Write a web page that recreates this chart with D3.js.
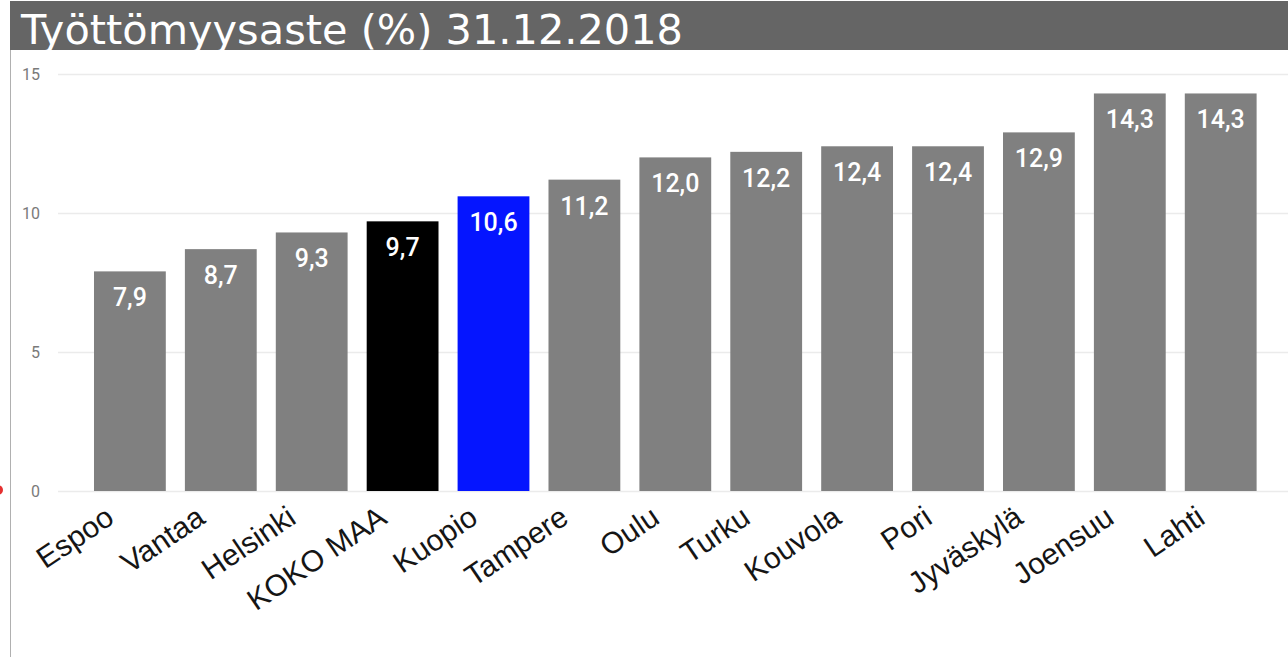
<!DOCTYPE html>
<html>
<head>
<meta charset="utf-8">
<script src="https://cdn.jsdelivr.net/npm/d3@7"></script>
<style>
  body { margin: 0; background: #fff; overflow: hidden; }
  .tick-label { font-family: Roboto, sans-serif; font-size: 16px; fill: #7a7a7a; }
  .bar-label { font-family: Roboto, sans-serif; font-size: 25px; font-weight: 500; fill: #fff; }
  .cat-label { font-family: 'Liberation Sans', Arial, sans-serif; font-size: 30px; fill: #151515; }
</style>
</head>
<body>
<div id="chart"></div>
<script>
// Data.
var cities = ['Espoo', 'Vantaa', 'Helsinki', 'KOKO MAA', 'Kuopio', 'Tampere',
  'Oulu', 'Turku', 'Kouvola', 'Pori', 'Jyväskylä', 'Joensuu', 'Lahti'];
var rates = [7.9, 8.7, 9.3, 9.7, 10.6, 11.2, 12.0, 12.2, 12.4, 12.4, 12.9, 14.3, 14.3];
var yTicks = [0, 5, 10, 15];
var titleText = 'Työttömyysaste (%) 31.12.2018';

var W = 1288, H = 657;

function barColor(name) {
  if (name === 'KOKO MAA') return '#000000';
  if (name === 'Kuopio') return '#0515ff';
  return '#808080';
}

function fmt(v) {
  return v.toFixed(1).replace('.', ',');
}

var svg = d3.select('#chart').append('svg')
  .attr('width', W)
  .attr('height', H);

// Title bar
svg.append('rect')
  .attr('x', 10).attr('y', 1)
  .attr('width', W - 10).attr('height', 49)
  .attr('fill', '#656565');

svg.append('text')
  .attr('x', 21).attr('y', 44)
  .attr('fill', '#fff')
  .attr('textLength', 662)
  .attr('lengthAdjust', 'spacingAndGlyphs')
  .style('font-family', "'DejaVu Sans', sans-serif")
  .style('font-size', '40px')
  .text(titleText);

// Left frame line
svg.append('line')
  .attr('x1', 10.5).attr('x2', 10.5)
  .attr('y1', 50).attr('y2', H)
  .attr('stroke', '#b0b0b0');

// small red marker on the left edge
svg.append('circle')
  .attr('cx', -2).attr('cy', 490).attr('r', 5)
  .attr('fill', '#e53030');

var x = d3.scaleBand()
  .domain(cities)
  .range([84.9, 1265.7])
  .paddingInner(0.21)
  .paddingOuter(0.1);

var y = d3.scaleLinear()
  .domain([0, 15])
  .range([491, 74]);

// gridlines + tick labels
var grid = svg.append('g');
grid.selectAll('line')
  .data(yTicks)
  .enter()
  .append('line')
  .attr('x1', 58).attr('x2', W)
  .attr('y1', function(d) { return Math.round(y(d)) + 0.5; })
  .attr('y2', function(d) { return Math.round(y(d)) + 0.5; })
  .attr('stroke', '#ebebeb')
  .attr('stroke-width', 1.5);

grid.selectAll('text')
  .data(yTicks)
  .enter()
  .append('text')
  .attr('class', 'tick-label')
  .attr('x', 40)
  .attr('y', function(d) { return y(d); })
  .attr('dy', '0.36em')
  .attr('text-anchor', 'end')
  .text(function(d) { return d; });

// bars
svg.append('g').selectAll('rect')
  .data(cities)
  .enter()
  .append('rect')
  .attr('x', function(d) { return x(d); })
  .attr('y', function(d, i) { return y(rates[i]); })
  .attr('width', x.bandwidth())
  .attr('height', function(d, i) { return y(0) - y(rates[i]); })
  .attr('fill', barColor);

// value labels inside bars
svg.append('g').selectAll('text')
  .data(cities)
  .enter()
  .append('text')
  .attr('class', 'bar-label')
  .attr('x', function(d) { return x(d) + x.bandwidth() / 2; })
  .attr('y', function(d, i) { return y(rates[i]) + 35; })
  .attr('text-anchor', 'middle')
  .text(function(d, i) { return fmt(rates[i]); });

// rotated category labels
svg.append('g').selectAll('text')
  .data(cities)
  .enter()
  .append('text')
  .attr('class', 'cat-label')
  .attr('text-anchor', 'end')
  .attr('transform', function(d) {
    var cx = x(d) + x.bandwidth() / 2 - 14;
    return 'translate(' + cx + ',' + 522 + ') rotate(-34)';
  })
  .text(function(d) { return d; });
</script>
</body>
</html>
